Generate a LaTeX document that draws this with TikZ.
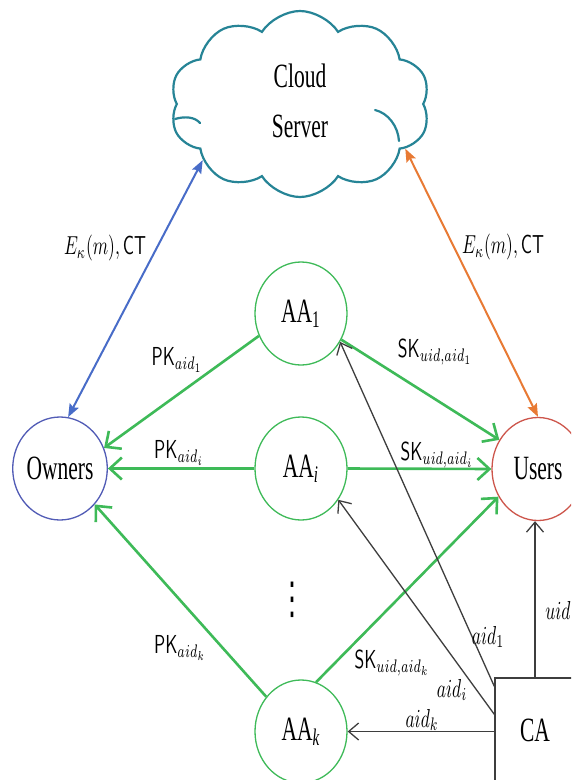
\documentclass[tikz,border=0pt]{standalone}
\usepackage{fontspec}
\usepackage{graphicx}
\usetikzlibrary{shapes.geometric,shapes.symbols,arrows.meta}
\newfontfamily\nodeserif{Liberation Serif}
\newfontfamily\symfont{DejaVu Sans}

\definecolor{ownblue}{RGB}{82,92,182}
\definecolor{usrred}{RGB}{205,85,75}
\definecolor{aagreen}{RGB}{62,186,88}
\definecolor{arrblue}{RGB}{72,108,200}
\definecolor{arrorange}{RGB}{232,122,52}
\definecolor{cloudteal}{RGB}{38,132,150}
\definecolor{ink}{RGB}{62,62,62}

% condensed serif for node names, CM math for edge labels
\newcommand\ntext[1]{\scalebox{2.15}[3.4]{\nodeserif #1}}
\newcommand\mlab[1]{\scalebox{1.75}[2.6]{$#1$}}

\begin{document}
\begin{tikzpicture}[x=1pt,y=-1pt,
  party/.style={ellipse, draw, line width=1.3pt, minimum width=92pt,
    minimum height=103pt, inner sep=0pt, fill=white},
  authority/.style={party, draw=aagreen},
  tag/.style={inner sep=1pt},
  greenflow/.style={draw=aagreen, line width=2.6pt,
    -{Straight Barb[length=12pt,width=22pt]}},
  inkflow/.style={draw=ink, line width=1.3pt,
    -{Straight Barb[length=10pt,width=17pt]}},
  dataflow/.style={line width=2pt,
    {Stealth[length=13pt,width=10pt,inset=2pt]}-{Stealth[length=13pt,width=10pt,inset=2pt]}},
  curl/.style={draw=cloudteal, line width=2.2pt, line cap=round}
]
\useasboundingbox (0,0) rectangle (571,780);
\fill[white] (0,0) rectangle (571,780);
\clip (0,0) rectangle (571,780);

% server
\node[cloud, draw=cloudteal, line width=2.2pt, cloud puffs=10, cloud puff arc=115,
  minimum width=260pt, minimum height=186pt, inner sep=0pt, fill=white]
  (cloud) at (300,104) {\ntext{\begin{tabular}{@{}c@{}}Cloud\\[2.7pt]Server\end{tabular}}};
% inner folds of the cloud outline
\draw[curl] (175,119) .. controls (185,116) and (195,117) .. (200,123);
\draw[curl] (375,110) .. controls (388,113) and (398,126) .. (399,141);

% parties
\node[party, draw=ownblue] (own) at (60,468.5) {\ntext{Owners}};
\node[party, draw=usrred] (usr) at (538,469) {\ntext{Users}};
\node[authority] (aa1) at (301,313.5) {\ntext{AA\textsubscript{1}}};
\node[authority] (aai) at (301,468.5) {\ntext{AA\textsubscript{\itshape i}}};
\node[authority] (aak) at (301,731.5) {\ntext{AA\textsubscript{\itshape k}}};
\node[draw=ink, line width=1.3pt, minimum width=80pt, minimum height=104pt,
  inner sep=0pt, fill=white] (ca) at (535,730) {\ntext{CA}};
\node[tag] (dots) at (292,600) {\scalebox{2.6}[4.4]{\symfont ⋮}};

% ciphertexts to and from the server
\draw[dataflow, draw=arrblue, fill=arrblue] (own.81) -- (cloud.210);
\draw[dataflow, draw=arrorange, fill=arrorange] (cloud.337) -- (usr.north);
\node[tag] (ctl) at (105,248) {\mlab{E_\kappa(m),\mathsf{CT}}};
\node[tag] (ctr) at (503,247) {\mlab{E_\kappa(m),\mathsf{CT}}};

% public keys to the owners
\draw[greenflow] (aa1.208) -- (own.25);
\draw[greenflow] (aai.west) -- (own.east);
\draw[greenflow] (aak.135) -- (own.314);
\node[tag] (pk1) at (177,360) {\mlab{\mathsf{PK}_{aid_1}}};
\node[tag] (pki) at (179,453) {\mlab{\mathsf{PK}_{aid_i}}};
\node[tag] (pkk) at (180,648) {\mlab{\mathsf{PK}_{aid_k}}};

% secret keys to the users
\draw[greenflow] (aa1.327) -- (usr.143);
\draw[greenflow] (aai.east) -- (usr.west);
\draw[greenflow] (aak.73) -- (usr.215);
\node[tag] (sk1) at (435,352) {\mlab{\mathsf{SK}_{uid,aid_1}}};
\node[tag] (ski) at (437,455) {\mlab{\mathsf{SK}_{uid,aid_i}}};
\node[tag] (skk) at (392,663) {\mlab{\mathsf{SK}_{uid,aid_k}}};

% identifiers issued by the CA
\draw[inkflow] (ca.133.6) -- (aa1.324);
\draw[inkflow] (ca.159.4) -- (aai.320);
\draw[inkflow] (ca.west |- aak.east) -- (aak.east);
\draw[inkflow] (ca.north) -- (ca.north |- usr.south);
\node[tag] (l1) at (488,637) {\mlab{aid_1}};
\node[tag] (li) at (452,690) {\mlab{aid_i}};
\node[tag] (lk) at (422,720) {\mlab{aid_k}};
\node[tag] (lu) at (558,610) {\mlab{uid}};
\end{tikzpicture}
\end{document}
